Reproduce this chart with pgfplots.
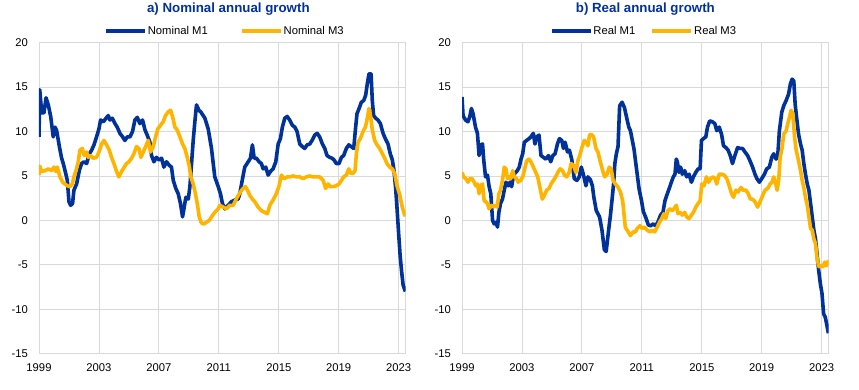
\documentclass[border=0pt]{standalone}
\usepackage{pgfplots}
\pgfplotsset{compat=1.18}
\usepackage{fontspec}
\setmainfont{Liberation Sans}
\definecolor{ecbblue}{HTML}{003299}
\definecolor{ecbyellow}{HTML}{FFB400}
\definecolor{gridgray}{HTML}{D9D9D9}
\pgfplotsset{
  ecbaxis/.style={
    scale only axis, width=366.7pt, height=311pt,
    xmin=1999, xmax=2023.47, ymin=-15, ymax=20,
    xtick={1999,2003,2007,2011,2015,2019,2023},
    xticklabels={1999,2003,2007,2011,2015,2019,2023},
    ytick={-15,-10,-5,0,5,10,15,20},
    grid=major, major grid style={gridgray, line width=0.8pt},
    axis line style={gridgray, line width=0.8pt},
    major tick length=0pt,
    tick label style={font=\fontsize{11.25}{13}\selectfont, inner sep=0pt},
    yticklabel shift=11pt, xticklabel shift=10pt,
    /pgf/number format/assume math mode=true,
    every axis title shift=0pt,
    title style={font=\bfseries\fontsize{13.3}{15}\selectfont, color=ecbblue, at={(0.5,1)}, anchor=base, yshift=30pt},
    legend columns=2,
    legend style={at={(0.5,1)}, anchor=center, yshift=12pt, draw=none, fill=none,
      font=\fontsize{11.25}{13}\selectfont, nodes={inner sep=1pt}},
    legend image code/.code={\draw[#1, line width=3.8pt] (0pt,0pt) -- (39pt,0pt);},
    every axis plot/.append style={line width=3.6pt, line join=round},
  }
}
\begin{document}
\begin{tikzpicture}
\useasboundingbox (0,0) rectangle (859pt,389pt);
% ---------------- left panel ----------------
\begin{axis}[ecbaxis, at={(39pt,35.3pt)}, anchor=south west,
  title={a) Nominal annual growth}, title style={xshift=6pt},
  legend style={xshift=2pt, /tikz/every even column/.append style={column sep=31pt}}]
\addplot[ecbblue] coordinates {
(1999.00,9.4)(1999.05,14.7)(1999.18,12.1)(1999.33,12.1)(1999.47,13.8)(1999.62,13.0)(1999.78,11.7)
(1999.95,9.4)(2000.07,10.5)(2000.18,10.1)(2000.36,8.3)(2000.51,7.0)(2000.62,6.4)(2000.78,5.3)
(2000.89,4.5)(2001.00,2.1)(2001.11,1.7)(2001.24,1.9)(2001.33,3.4)(2001.51,4.1)(2001.69,5.6)
(2001.84,6.4)(2002.00,6.6)(2002.18,6.4)(2002.36,7.5)(2002.51,7.9)(2002.67,8.5)(2002.84,9.4)
(2003.00,10.3)(2003.11,11.3)(2003.29,11.1)(2003.47,11.5)(2003.62,11.8)(2003.73,11.3)(2003.89,11.5)
(2004.07,10.9)(2004.22,10.5)(2004.40,9.8)(2004.58,9.4)(2004.73,9.0)(2004.89,9.4)(2005.07,9.4)
(2005.24,10.0)(2005.40,11.3)(2005.56,11.6)(2005.73,10.9)(2005.91,11.3)(2006.07,10.2)(2006.22,9.6)
(2006.40,8.8)(2006.51,7.3)(2006.67,6.6)(2006.84,7.1)(2007.02,6.8)(2007.18,7.0)(2007.33,6.0)
(2007.51,6.6)(2007.69,6.2)(2007.84,6.0)(2007.96,4.5)(2008.13,3.6)(2008.29,3.0)(2008.44,1.9)
(2008.58,0.4)(2008.69,1.5)(2008.80,2.6)(2008.96,2.4)(2009.07,3.8)(2009.18,6.4)(2009.29,9.0)
(2009.40,11.1)(2009.51,13.0)(2009.67,12.4)(2009.80,12.2)(2010.07,11.5)(2010.29,10.3)(2010.51,8.1)
(2010.73,4.9)(2010.96,3.8)(2011.11,3.0)(2011.24,1.9)(2011.40,1.3)(2011.62,1.7)(2011.84,2.1)
(2012.07,2.3)(2012.29,2.4)(2012.40,3.0)(2012.56,4.5)(2012.73,6.0)(2012.96,6.6)(2013.11,7.0)
(2013.24,8.5)(2013.36,7.0)(2013.51,7.0)(2013.69,6.6)(2013.84,6.4)(2013.96,5.8)(2014.13,6.0)
(2014.29,5.1)(2014.44,5.5)(2014.62,5.8)(2014.80,6.6)(2014.96,8.6)(2015.11,9.2)(2015.24,10.5)
(2015.40,11.5)(2015.56,11.7)(2015.73,11.3)(2015.91,10.7)(2016.07,10.5)(2016.22,10.0)(2016.40,8.6)
(2016.58,8.3)(2016.73,8.1)(2016.89,8.5)(2017.07,8.6)(2017.22,9.0)(2017.40,9.6)(2017.56,9.8)
(2017.73,9.4)(2017.91,8.6)(2018.07,8.1)(2018.22,7.3)(2018.40,7.1)(2018.56,7.0)(2018.69,6.8)
(2018.84,6.4)(2019.02,6.4)(2019.18,7.1)(2019.33,7.3)(2019.51,8.1)(2019.67,8.5)(2019.84,8.3)
(2020.00,8.1)(2020.13,10.5)(2020.22,12.0)(2020.36,12.6)(2020.51,13.3)(2020.67,13.5)(2020.80,14.1)
(2020.91,15.4)(2021.02,16.5)(2021.16,16.5)(2021.24,13.5)(2021.33,11.8)(2021.47,11.5)(2021.62,11.3)
(2021.78,10.9)(2021.96,9.8)(2022.11,9.2)(2022.29,8.6)(2022.44,7.5)(2022.58,6.8)(2022.69,5.6)
(2022.80,3.6)(2022.89,1.4)(2023.00,-1.5)(2023.10,-4.0)(2023.20,-5.8)(2023.30,-7.3)(2023.45,-8.0)
};
\addlegendentry{Nominal M1}
\addplot[ecbyellow] coordinates {
(1999.00,5.1)(1999.05,6.1)(1999.18,5.5)(1999.40,5.6)(1999.62,5.8)(1999.84,5.6)(2000.00,6.0)
(2000.13,5.5)(2000.22,6.0)(2000.40,4.9)(2000.58,4.3)(2000.73,4.1)(2000.89,3.9)(2001.07,3.8)
(2001.22,4.1)(2001.33,4.9)(2001.47,5.6)(2001.62,6.6)(2001.73,7.9)(2001.89,8.1)(2002.02,7.3)
(2002.18,7.7)(2002.29,7.1)(2002.44,7.3)(2002.62,7.0)(2002.84,7.1)(2003.00,7.7)(2003.18,8.6)
(2003.33,9.0)(2003.51,8.5)(2003.69,7.9)(2003.84,7.1)(2004.00,6.4)(2004.18,5.5)(2004.33,4.9)
(2004.51,5.5)(2004.69,6.0)(2004.84,6.4)(2005.00,6.6)(2005.18,7.0)(2005.33,7.5)(2005.51,8.3)
(2005.67,8.1)(2005.80,7.1)(2005.96,7.7)(2006.11,8.3)(2006.29,9.0)(2006.44,7.7)(2006.62,8.3)
(2006.78,9.4)(2006.93,10.3)(2007.11,10.7)(2007.29,11.1)(2007.44,11.8)(2007.62,12.2)(2007.78,12.4)
(2007.91,11.7)(2008.07,10.5)(2008.22,10.2)(2008.40,9.4)(2008.58,8.6)(2008.73,8.1)(2008.89,7.1)
(2009.02,6.2)(2009.13,4.9)(2009.29,4.1)(2009.44,3.0)(2009.58,1.7)(2009.69,0.4)(2009.84,-0.3)
(2010.00,-0.4)(2010.18,-0.2)(2010.36,0.0)(2010.51,0.4)(2010.73,0.9)(2010.96,1.3)(2011.07,1.7)
(2011.29,1.5)(2011.51,1.3)(2011.73,1.7)(2011.96,1.7)(2012.13,2.3)(2012.29,2.8)(2012.44,3.2)
(2012.62,3.6)(2012.78,3.8)(2012.91,3.4)(2013.07,2.8)(2013.24,2.4)(2013.40,2.1)(2013.62,1.5)
(2013.84,1.1)(2014.07,0.9)(2014.24,0.75)(2014.40,1.7)(2014.62,2.3)(2014.84,3.0)(2015.02,3.9)
(2015.18,5.1)(2015.36,4.7)(2015.56,4.9)(2015.73,4.9)(2015.96,5.0)(2016.18,4.9)(2016.40,4.9)
(2016.62,4.7)(2016.84,4.9)(2017.07,5.0)(2017.29,4.9)(2017.51,4.9)(2017.73,4.9)(2017.96,4.5)
(2018.13,3.6)(2018.29,4.1)(2018.44,3.8)(2018.62,3.8)(2018.84,3.9)(2019.02,4.1)(2019.18,4.5)
(2019.33,4.9)(2019.51,5.1)(2019.67,5.8)(2019.80,5.3)(2019.96,5.3)(2020.09,5.6)(2020.18,7.5)
(2020.29,8.8)(2020.44,9.2)(2020.62,10.0)(2020.78,10.5)(2020.91,11.5)(2021.02,12.6)(2021.13,11.7)
(2021.24,10.2)(2021.40,9.0)(2021.56,8.5)(2021.73,8.1)(2021.91,7.5)(2022.07,7.0)(2022.22,6.4)
(2022.40,6.0)(2022.58,5.8)(2022.73,5.3)(2022.89,3.9)(2023.07,2.9)(2023.24,1.5)(2023.40,0.6)
(2023.45,0.5)
};
\addlegendentry{Nominal M3}
\end{axis}
% ---------------- right panel ----------------
\begin{axis}[ecbaxis, at={(462pt,35.3pt)}, anchor=south west,
  title={b) Real annual growth},
  legend style={xshift=-2pt, /tikz/every even column/.append style={column sep=14pt}}]
\addplot[ecbblue] coordinates {
(1999.00,13.9)(1999.07,11.8)(1999.23,11.3)(1999.40,11.1)(1999.52,11.7)(1999.63,12.6)(1999.74,12.0)
(1999.90,10.5)(2000.03,9.8)(2000.14,7.3)(2000.25,8.5)(2000.37,8.6)(2000.45,6.8)(2000.57,4.9)
(2000.70,5.1)(2000.81,3.8)(2000.92,3.0)(2001.04,0.0)(2001.15,-0.4)(2001.26,-0.2)(2001.37,-0.75)
(2001.46,0.9)(2001.57,1.9)(2001.70,2.4)(2001.82,3.4)(2001.93,4.3)(2002.08,3.9)(2002.20,4.3)
(2002.31,3.8)(2002.42,4.9)(2002.53,5.3)(2002.69,5.6)(2002.82,6.0)(2002.94,6.9)(2003.05,7.5)
(2003.16,8.8)(2003.31,9.0)(2003.47,9.2)(2003.60,9.4)(2003.76,9.8)(2003.87,8.6)(2003.98,9.4)
(2004.14,9.6)(2004.27,7.3)(2004.43,7.1)(2004.59,6.9)(2004.77,7.3)(2004.92,6.6)(2005.06,7.3)
(2005.21,7.5)(2005.37,8.6)(2005.50,9.2)(2005.66,9.0)(2005.77,8.1)(2005.88,8.8)(2006.04,7.7)
(2006.17,7.9)(2006.33,6.8)(2006.49,4.7)(2006.67,4.5)(2006.82,4.9)(2006.96,6.0)(2007.11,5.1)
(2007.27,3.9)(2007.40,4.9)(2007.56,4.6)(2007.70,3.9)(2007.80,2.6)(2007.96,1.1)(2008.18,0.4)
(2008.34,-1.1)(2008.50,-3.3)(2008.62,-3.5)(2008.79,-1.0)(2008.90,0.5)(2009.01,2.3)(2009.12,4.2)
(2009.20,6.4)(2009.30,7.5)(2009.41,8.3)(2009.52,12.9)(2009.68,13.3)(2009.84,12.7)(2009.97,11.7)
(2010.13,10.5)(2010.24,10.1)(2010.48,8.0)(2010.66,5.6)(2010.82,3.5)(2010.97,2.3)(2011.10,1.0)
(2011.27,0.3)(2011.43,-0.5)(2011.58,-0.6)(2011.76,-0.4)(2011.92,-0.6)(2012.07,-0.2)(2012.25,0.6)
(2012.41,0.9)(2012.54,2.2)(2012.70,3.0)(2012.85,3.7)(2012.97,4.3)(2013.10,4.9)(2013.21,5.2)
(2013.30,6.9)(2013.37,6.6)(2013.48,5.4)(2013.59,6.0)(2013.70,5.2)(2013.86,5.6)(2013.99,4.9)
(2014.15,5.2)(2014.31,4.3)(2014.44,4.9)(2014.60,5.4)(2014.75,5.8)(2014.89,5.8)(2014.98,9.0)
(2015.11,9.2)(2015.27,9.4)(2015.38,10.5)(2015.53,11.2)(2015.71,11.1)(2015.87,10.9)(2016.00,10.1)
(2016.16,10.5)(2016.32,9.7)(2016.45,8.4)(2016.61,8.2)(2016.76,7.9)(2016.90,7.3)(2017.05,6.4)
(2017.21,7.3)(2017.39,8.2)(2017.55,8.1)(2017.72,8.1)(2017.88,7.7)(2018.06,7.3)(2018.22,6.7)
(2018.39,6.0)(2018.55,5.2)(2018.68,4.7)(2018.84,4.3)(2019.00,4.7)(2019.18,5.2)(2019.33,5.8)
(2019.51,6.0)(2019.67,7.1)(2019.80,7.5)(2019.96,6.9)(2020.07,7.3)(2020.18,10.1)(2020.34,12.2)
(2020.47,12.9)(2020.63,13.5)(2020.79,14.2)(2020.92,15.4)(2021.03,15.9)(2021.14,15.7)(2021.23,13.1)
(2021.34,11.4)(2021.46,9.7)(2021.59,8.6)(2021.70,7.9)(2021.81,6.4)(2021.92,5.2)(2022.04,4.1)
(2022.15,3.4)(2022.26,1.9)(2022.37,0.4)(2022.48,-1.1)(2022.59,-2.1)(2022.71,-4.1)(2022.80,-5.6)
(2022.91,-7.1)(2023.02,-8.2)(2023.13,-10.5)(2023.24,-10.9)(2023.35,-11.8)(2023.45,-12.7)
};
\addlegendentry{Real M1}
\addplot[ecbyellow] coordinates {
(1999.00,5.4)(1999.11,4.9)(1999.25,4.7)(1999.40,4.3)(1999.52,4.7)(1999.67,4.7)(1999.81,4.3)
(1999.92,3.9)(2000.03,4.1)(2000.14,3.0)(2000.25,3.9)(2000.37,4.1)(2000.48,2.2)(2000.59,2.1)
(2000.70,1.9)(2000.81,1.3)(2000.97,1.7)(2001.08,1.5)(2001.21,1.7)(2001.35,1.5)(2001.46,3.0)
(2001.57,3.4)(2001.70,4.5)(2001.82,6.0)(2001.93,5.8)(2002.04,4.7)(2002.15,4.9)(2002.26,4.7)
(2002.38,5.6)(2002.49,4.9)(2002.64,4.7)(2002.75,4.3)(2002.91,4.5)(2003.05,4.9)(2003.16,5.6)
(2003.31,6.7)(2003.47,6.9)(2003.60,6.6)(2003.76,6.0)(2003.92,5.4)(2004.05,4.9)(2004.20,3.7)
(2004.36,2.4)(2004.49,2.8)(2004.65,3.4)(2004.81,3.6)(2004.94,4.1)(2005.10,4.5)(2005.25,4.9)
(2005.39,5.4)(2005.55,5.8)(2005.71,5.6)(2005.84,5.1)(2006.00,4.9)(2006.15,5.4)(2006.28,6.4)
(2006.44,6.2)(2006.60,5.4)(2006.73,6.7)(2006.89,7.5)(2007.00,8.2)(2007.16,9.0)(2007.29,8.8)
(2007.40,8.4)(2007.51,9.6)(2007.63,9.7)(2007.78,9.4)(2007.94,8.1)(2008.07,7.7)(2008.23,6.6)
(2008.39,5.6)(2008.52,4.9)(2008.68,5.2)(2008.83,6.0)(2008.96,5.8)(2009.08,4.5)(2009.23,4.1)
(2009.39,3.8)(2009.57,3.2)(2009.72,2.2)(2009.90,-0.8)(2010.06,-1.2)(2010.24,-1.7)(2010.42,-1.3)
(2010.57,-1.3)(2010.69,-0.9)(2010.87,-0.6)(2011.02,-0.9)(2011.18,-0.75)(2011.36,-1.1)(2011.54,-1.3)
(2011.69,-1.1)(2011.85,-1.3)(2012.03,-0.75)(2012.18,-0.2)(2012.32,0.2)(2012.47,0.75)(2012.59,0.2)
(2012.74,1.1)(2012.88,1.3)(2013.03,1.1)(2013.14,1.3)(2013.30,1.7)(2013.41,0.75)(2013.55,0.9)
(2013.70,0.6)(2013.86,0.9)(2013.99,0.4)(2014.15,0.2)(2014.31,0.6)(2014.44,0.9)(2014.60,1.5)
(2014.75,1.9)(2014.89,2.2)(2015.00,4.1)(2015.15,3.9)(2015.31,4.9)(2015.45,4.3)(2015.60,4.7)
(2015.76,4.9)(2015.89,4.7)(2016.00,4.1)(2016.16,5.2)(2016.32,5.2)(2016.50,5.1)(2016.67,4.7)
(2016.83,3.9)(2016.99,3.0)(2017.12,2.6)(2017.28,3.4)(2017.43,3.2)(2017.61,3.7)(2017.77,3.4)
(2017.95,3.4)(2018.10,3.0)(2018.24,2.4)(2018.39,2.4)(2018.55,2.1)(2018.73,1.5)(2018.89,2.1)
(2019.06,2.8)(2019.22,3.4)(2019.40,3.6)(2019.56,4.1)(2019.69,4.3)(2019.80,4.9)(2019.91,4.3)
(2020.03,3.4)(2020.14,4.7)(2020.23,7.1)(2020.36,8.2)(2020.47,9.7)(2020.63,10.1)(2020.74,10.9)
(2020.85,11.6)(2020.96,12.4)(2021.08,12.0)(2021.19,9.4)(2021.30,7.9)(2021.46,6.7)(2021.59,5.6)
(2021.70,4.5)(2021.81,3.7)(2021.92,2.6)(2022.04,1.7)(2022.15,0.4)(2022.26,-0.9)(2022.37,-1.1)
(2022.48,-2.1)(2022.59,-2.6)(2022.71,-4.5)(2022.82,-5.2)(2022.97,-5.1)(2023.09,-5.2)(2023.20,-4.7)
(2023.31,-5.1)(2023.42,-4.7)(2023.45,-4.5)
};
\addlegendentry{Real M3}
\end{axis}
\end{tikzpicture}
\end{document}
